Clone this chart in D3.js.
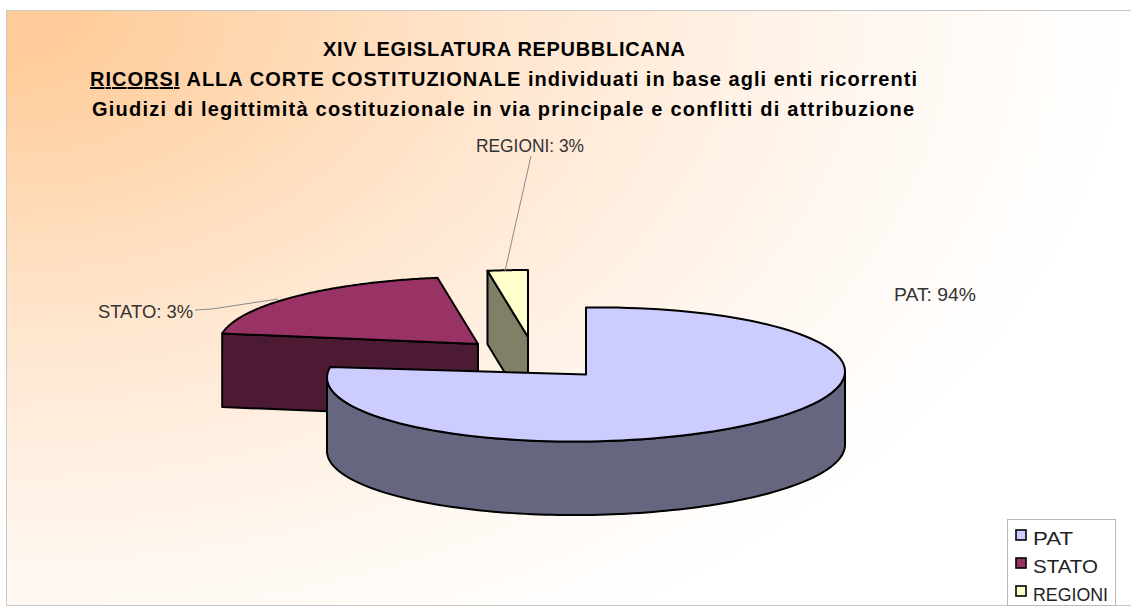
<!DOCTYPE html>
<html><head><meta charset="utf-8">
<script src="https://cdn.jsdelivr.net/npm/d3@7"></script>
<style>html,body{margin:0;background:#fff}svg{display:block}text{font-family:"Liberation Sans",Arial,sans-serif}</style>
</head><body><svg id="c" width="1131" height="613"></svg>
<script>
// Data
const categories = ["PAT", "STATO", "REGIONI"];
const drawnShares = [77.5, 20, 2.5];       // angular size of each slice as drawn in the picture
const labelPercents = ["94%", "3%", "3%"]; // what the picture's labels print
const topColors = ["#ccccff", "#993366", "#ffffcc"];
const sideColors = ["#666680", "#4d1a33", "#808066"];
const titleLines = ["XIV LEGISLATURA REPUBBLICANA", "ALLA CORTE COSTITUZIONALE individuati in base agli enti ricorrenti", "Giudizi di legittimità costituzionale in via principale e conflitti di attribuzione"];
const titleUnderlined = "RICORSI";

// Layout
const rx = 259, ry = 67, depth = 73.5;
const centers = [[586, 374.5], [478, 344], [528, 337]];
const tilts = [0.012, 0, 0];
const labelPos = [[894, 301], [98, 318], [476, 152]];
const leaders = [null, [[195, 310], [212, 309], [278, 299]], [[531, 156], [505, 271]]];

const svg = d3.select("#c");
const defs = svg.append("defs");
const grad = defs.append("radialGradient").attr("id", "bg").attr("gradientUnits", "userSpaceOnUse")
  .attr("cx", 6).attr("cy", 11).attr("r", 1000)
  .attr("gradientTransform", "translate(6 11) scale(1.12 0.72) translate(-6 -11)");
[[0, "#ffcc99"], [0.06, "#ffcc99"], [0.45, "#ffe6cf"], [0.75, "#fff6ee"], [1, "#ffffff"]]
  .forEach(([o, c]) => grad.append("stop").attr("offset", o).attr("stop-color", c));

svg.append("rect").attr("x", 6.5).attr("y", 10.5).attr("width", 1130).attr("height", 595)
  .attr("fill", "url(#bg)").attr("stroke", "#c8c8c8");

const pie = d3.pie().sort(null).startAngle(0).endAngle(2 * Math.PI)(drawnShares);
const line = d3.line();
const pt = (i, a, dy = 0) => {
  const c = centers[i], x = rx * Math.sin(a);
  return [c[0] + x, c[1] - ry * Math.cos(a) - tilts[i] * x + dy];
};
const arcPts = (i, a0, a1, dy = 0) => d3.range(0, 121).map(k => pt(i, a0 + (a1 - a0) * k / 120, dy));
const stroke = s => s.attr("stroke", "#000").attr("stroke-width", 2).attr("stroke-linejoin", "round");

function slice(i) {
  const d = pie[i], c = centers[i];
  const g = svg.append("g");
  const start = pt(i, d.startAngle);
  if (i === 0) {
    const a0 = Math.max(d.startAngle, Math.PI / 2), a1 = Math.min(d.endAngle, 3 * Math.PI / 2);
    const top = arcPts(i, a0, a1), bot = arcPts(i, a0, a1, depth).reverse();
    g.append("path").attr("d", line(top.concat(bot)) + "Z").attr("fill", sideColors[i]).call(stroke);
  } else {
    // cut face from the rim to the apex
    const q = [start, c, [c[0], c[1] + depth], [start[0], start[1] + depth]];
    g.append("path").attr("d", line(q) + "Z").attr("fill", sideColors[i]).call(stroke);
  }
  const outline = [c].concat(arcPts(i, d.startAngle, d.endAngle));
  g.append("path").attr("d", line(outline) + "Z").attr("fill", topColors[i]).call(stroke);
}
[2, 1, 0].forEach(slice);

// Leader lines
leaders.forEach(l => { if (l) svg.append("path").attr("d", line(l)).attr("fill", "none").attr("stroke", "#8a8a8a").attr("stroke-width", 1); });

// Data labels
categories.forEach((n, i) => svg.append("text").attr("x", labelPos[i][0]).attr("y", labelPos[i][1])
  .attr("font-size", 19).attr("fill", "#333").attr("textLength", [82, 95, 108][i]).attr("lengthAdjust", "spacingAndGlyphs")
  .text(`${n}: ${labelPercents[i]}`));

// Title
const tt = svg.append("g").attr("font-weight", "bold").attr("fill", "#000");
tt.append("text").attr("x", 323).attr("y", 56).attr("font-size", 20).attr("textLength", 362).text(titleLines[0]);
const t2 = tt.append("text").attr("x", 90).attr("y", 86).attr("font-size", 20).attr("textLength", 827);
t2.append("tspan").attr("text-decoration", "underline").text(titleUnderlined);
t2.append("tspan").text(" " + titleLines[1]);
tt.append("text").attr("x", 92).attr("y", 116).attr("font-size", 20).attr("textLength", 822).text(titleLines[2]);

// Legend
const lg = svg.append("g");
lg.append("rect").attr("x", 1007.5).attr("y", 519.5).attr("width", 108).attr("height", 86).attr("fill", "#fff").attr("stroke", "#b8b8b8");
const ly = d3.scalePoint().domain(categories).range([535, 591]);
categories.forEach((n, i) => {
  lg.append("rect").attr("x", 1016).attr("y", ly(n) - 5).attr("width", 10).attr("height", 10)
    .attr("fill", topColors[i]).attr("stroke", "#000").attr("stroke-width", 1.6);
  lg.append("text").attr("x", 1033).attr("y", ly(n) + 10).attr("font-size", 19).attr("fill", "#222")
    .attr("textLength", [40, 65, 75][i]).attr("lengthAdjust", "spacingAndGlyphs").text(n);
});
</script></body></html>
